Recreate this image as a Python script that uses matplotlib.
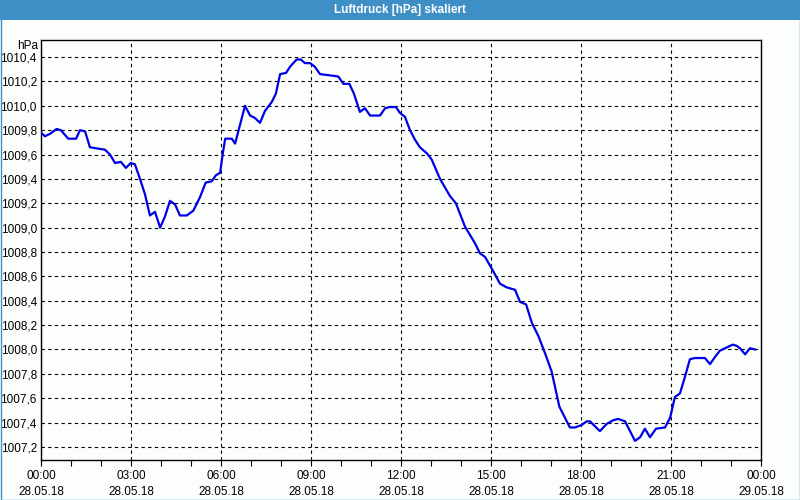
import matplotlib
matplotlib.use("Agg")
import matplotlib.pyplot as plt
from matplotlib.patches import Rectangle
from matplotlib.ticker import MultipleLocator

plt.rcParams["font.family"] = ["Liberation Sans", "DejaVu Sans"]

# Stunden ab 28.05.18 00:00
stunden = [0.0, 0.13, 0.30, 0.52, 0.66, 0.91, 1.17, 1.30, 1.47, 1.63, 1.86, 2.13,
           2.30, 2.47, 2.66, 2.83, 2.99, 3.13, 3.30, 3.47, 3.63, 3.80, 3.97, 4.13,
           4.30, 4.47, 4.63, 4.86, 5.08, 5.30, 5.49, 5.69, 5.83, 5.97, 6.06, 6.14,
           6.36, 6.47, 6.63, 6.80, 6.97, 7.13, 7.30, 7.47, 7.69, 7.83, 7.97, 8.17,
           8.30, 8.52, 8.66, 8.80, 8.97, 9.13, 9.30, 9.63, 9.91, 10.08, 10.28, 10.43,
           10.63, 10.80, 10.97, 11.30, 11.47, 11.63, 11.83, 11.97, 12.13, 12.30, 12.47,
           12.63, 12.86, 13.02, 13.30, 13.63, 13.83, 14.13, 14.47, 14.63, 14.80, 15.08,
           15.30, 15.52, 15.80, 15.97, 16.17, 16.36, 16.58, 16.80, 17.02, 17.28, 17.63,
           17.80, 18.02, 18.19, 18.30, 18.63, 18.86, 19.08, 19.24, 19.47, 19.80, 19.97,
           20.13, 20.30, 20.50, 20.80, 20.97, 21.13, 21.30, 21.47, 21.63, 21.80, 22.13,
           22.30, 22.47, 22.63, 22.80, 23.06, 23.19, 23.30, 23.47, 23.63, 23.80]
luftdruck = [1009.78, 1009.75, 1009.77, 1009.81, 1009.80, 1009.73, 1009.73, 1009.80,
             1009.79, 1009.66, 1009.65, 1009.64, 1009.60, 1009.53, 1009.54, 1009.49,
             1009.53, 1009.52, 1009.40, 1009.27, 1009.10, 1009.13, 1009.00, 1009.09,
             1009.22, 1009.19, 1009.10, 1009.10, 1009.14, 1009.25, 1009.37, 1009.38,
             1009.43, 1009.45, 1009.61, 1009.73, 1009.73, 1009.69, 1009.84, 1010.00,
             1009.92, 1009.90, 1009.86, 1009.96, 1010.03, 1010.10, 1010.26, 1010.27,
             1010.32, 1010.38, 1010.38, 1010.35, 1010.35, 1010.32, 1010.26, 1010.25,
             1010.24, 1010.18, 1010.18, 1010.10, 1009.95, 1009.98, 1009.92, 1009.92,
             1009.98, 1009.99, 1009.99, 1009.94, 1009.91, 1009.80, 1009.72, 1009.66,
             1009.61, 1009.56, 1009.40, 1009.26, 1009.20, 1009.01, 1008.87, 1008.79,
             1008.76, 1008.64, 1008.54, 1008.51, 1008.49, 1008.39, 1008.37, 1008.22,
             1008.11, 1007.97, 1007.82, 1007.53, 1007.36, 1007.36, 1007.38, 1007.41,
             1007.41, 1007.33, 1007.39, 1007.42, 1007.43, 1007.41, 1007.25, 1007.28,
             1007.35, 1007.28, 1007.35, 1007.36, 1007.44, 1007.61, 1007.64, 1007.78,
             1007.92, 1007.93, 1007.93, 1007.88, 1007.94, 1007.99, 1008.01, 1008.04,
             1008.03, 1008.01, 1007.96, 1008.01, 1008.00]

x_ticks = [0, 3, 6, 9, 12, 15, 18, 21, 24]
x_labels = ["00:00\n28.05.18", "03:00\n28.05.18", "06:00\n28.05.18", "09:00\n28.05.18",
            "12:00\n28.05.18", "15:00\n28.05.18", "18:00\n28.05.18", "21:00\n28.05.18",
            "00:00\n29.05.18"]
y_ticks = [1007.2, 1007.4, 1007.6, 1007.8, 1008.0, 1008.2, 1008.4, 1008.6, 1008.8,
           1009.0, 1009.2, 1009.4, 1009.6, 1009.8, 1010.0, 1010.2, 1010.4]

blau = "#3d8fc6"

fig = plt.figure(figsize=(8, 5), dpi=100, facecolor="#fcfefc")
ax = fig.add_axes([41 / 800, 40 / 500, 720 / 800, 420 / 500])
ax.set_facecolor("#fcfefc")

# Titelleiste und Rahmen
fig.patches.append(Rectangle((0, 1 - 20 / 500), 1, 20 / 500, transform=fig.transFigure,
                             facecolor=blau, edgecolor="none", zorder=0))
fig.patches.append(Rectangle((0.5 / 800, 0.5 / 500), 799 / 800, 499 / 500,
                             transform=fig.transFigure, facecolor="none",
                             edgecolor=blau, linewidth=1.0, zorder=1))
fig.text(0.5, 1 - 10 / 500, "Luftdruck [hPa] skaliert", color="white",
         fontsize=8.5, fontweight="bold", ha="center", va="center")

ax.plot(stunden, luftdruck, color="#0000e6", linewidth=1.6, zorder=3)

ax.set_xlim(0, 24)
ax.set_ylim(1007.093, 1010.54)
ax.set_xticks(x_ticks)
ax.set_xticklabels(x_labels, fontsize=8.5, linespacing=1.45)
ax.xaxis.set_minor_locator(MultipleLocator(1))
ax.set_yticks(y_ticks)
ax.set_yticklabels([f"{v:.1f}".replace(".", ",") for v in y_ticks], fontsize=8.5)

ax.tick_params(axis="x", which="both", direction="out", length=4, width=0.8,
               pad=3, colors="black")
ax.tick_params(axis="y", length=0, pad=3)
ax.grid(True, which="major", color="black", linestyle=(0, (3, 3)), linewidth=0.8)
for s in ax.spines.values():
    s.set_linewidth(1.0)
    s.set_color("black")

fig.text(38 / 800, 1 - 46 / 500, "hPa", fontsize=8.5, ha="right", va="center")

fig.savefig("out.png", dpi=100, facecolor=fig.get_facecolor())
